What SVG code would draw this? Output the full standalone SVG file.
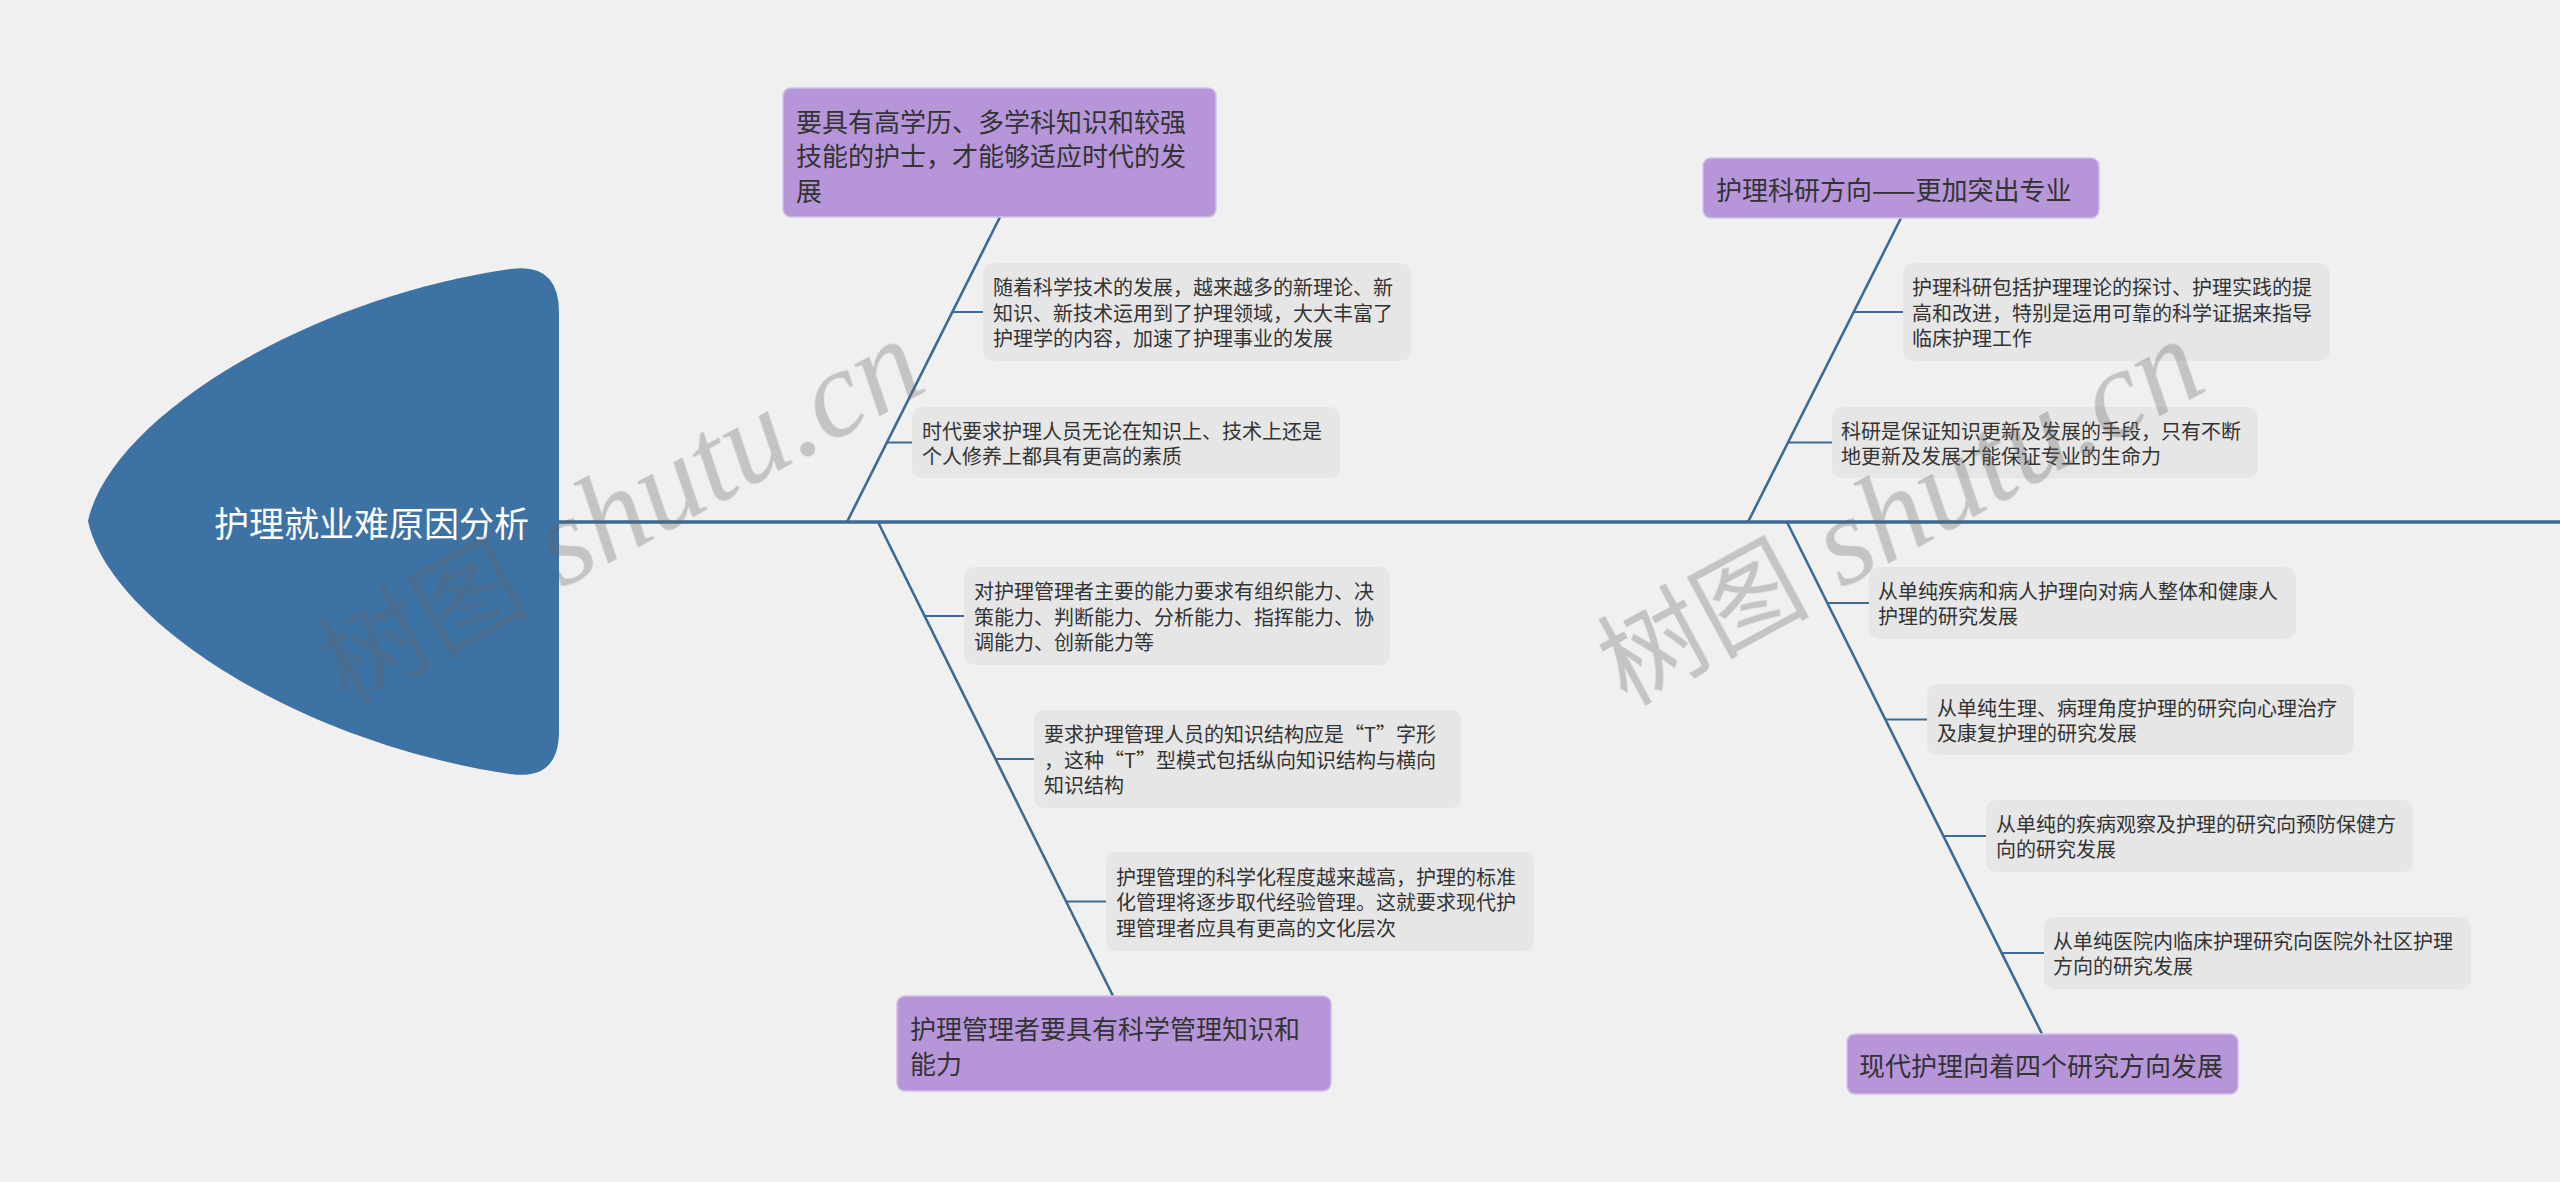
<svg xmlns="http://www.w3.org/2000/svg" width="2560" height="1182" viewBox="0 0 2560 1182">
<style>
.bg{fill:#f0f0f0}
.spine{stroke:#3d6a94;stroke-width:3.5;fill:none}
.bone{stroke:#3d6a94;stroke-width:2.6;fill:none}
.stub{stroke:#3d6a94;stroke-width:2;fill:none}
.main{fill:#b696d9;stroke:#d2bfe8;stroke-width:1.5}
.sub{fill:#e6e6e6}
.t{font-family:"Noto Sans CJK SC","Microsoft YaHei",sans-serif;fill:#333333;dominant-baseline:central}
.t26{font-size:26px}
.t20{font-size:20px}
.head{font-family:"Noto Sans CJK SC",sans-serif;font-size:35px;fill:#ffffff;dominant-baseline:central;text-anchor:end}
.wm{fill:#646464;opacity:0.32}
.wmc{font-family:"Noto Sans CJK SC",sans-serif;font-size:106px}
.wml{font-family:"Liberation Serif",serif;font-style:italic;font-size:125px}
</style>
<rect class="bg" x="0" y="0" width="2560" height="1182"/>

<g id="connectors">
<line class="spine" x1="555" y1="522" x2="2560" y2="522"/>
<line class="bone" x1="847" y1="522" x2="1000" y2="217"/>
<line class="bone" x1="878" y1="522" x2="1113" y2="996"/>
<line class="bone" x1="1748" y1="522" x2="1901" y2="218"/>
<line class="bone" x1="1787" y1="522" x2="2042" y2="1034"/>
<line class="stub" x1="952" y1="312" x2="983" y2="312"/>
<line class="stub" x1="887" y1="442.5" x2="912" y2="442.5"/>
<line class="stub" x1="925" y1="616" x2="964" y2="616"/>
<line class="stub" x1="995.5" y1="759" x2="1034" y2="759"/>
<line class="stub" x1="1066" y1="901.5" x2="1106" y2="901.5"/>
<line class="stub" x1="1853.6" y1="312" x2="1903" y2="312"/>
<line class="stub" x1="1788" y1="442.5" x2="1832" y2="442.5"/>
<line class="stub" x1="1827.3" y1="603" x2="1869" y2="603"/>
<line class="stub" x1="1885.4" y1="719.5" x2="1927" y2="719.5"/>
<line class="stub" x1="1943.4" y1="836" x2="1986" y2="836"/>
<line class="stub" x1="2001.6" y1="953" x2="2044" y2="953"/>
</g>

<g id="root">
<path d="M88,521 C110,420 300,300 510,269 Q559,262 559,312 L559,731 Q559,781 510,774 C300,743 110,622 88,521 Z" fill="#3d72a5"/>
<text class="head" x="529" y="521">护理就业难原因分析</text>
</g>

<g id="main1">
<rect class="main" x="783" y="88" width="433" height="129" rx="8"/>
<text class="t t26" x="796" y="120">要具有高学历、多学科知识和较强</text>
<text class="t t26" x="796" y="154.5">技能的护士，才能够适应时代的发</text>
<text class="t t26" x="796" y="189">展</text>
</g>
<g id="sub1a">
<rect class="sub" x="983" y="263" width="428" height="98" rx="10"/>
<text class="t t20" x="993" y="286.5">随着科学技术的发展，越来越多的新理论、新</text>
<text class="t t20" x="993" y="312">知识、新技术运用到了护理领域，大大丰富了</text>
<text class="t t20" x="993" y="337.5">护理学的内容，加速了护理事业的发展</text>
</g>
<g id="sub1b">
<rect class="sub" x="912" y="407" width="428" height="71" rx="10"/>
<text class="t t20" x="922" y="430">时代要求护理人员无论在知识上、技术上还是</text>
<text class="t t20" x="922" y="455">个人修养上都具有更高的素质</text>
</g>

<g id="main2">
<rect class="main" x="897" y="996" width="434" height="95" rx="8"/>
<text class="t t26" x="910" y="1027">护理管理者要具有科学管理知识和</text>
<text class="t t26" x="910" y="1062">能力</text>
</g>
<g id="sub2a">
<rect class="sub" x="964" y="567" width="426" height="98" rx="10"/>
<text class="t t20" x="974" y="590.5">对护理管理者主要的能力要求有组织能力、决</text>
<text class="t t20" x="974" y="616">策能力、判断能力、分析能力、指挥能力、协</text>
<text class="t t20" x="974" y="641.5">调能力、创新能力等</text>
</g>
<g id="sub2b">
<rect class="sub" x="1034" y="710" width="427" height="98" rx="10"/>
<text class="t t20" x="1044" y="733.5">要求护理管理人员的知识结构应是“T”字形</text>
<text class="t t20" x="1044" y="759">，这种“T”型模式包括纵向知识结构与横向</text>
<text class="t t20" x="1044" y="784.5">知识结构</text>
</g>
<g id="sub2c">
<rect class="sub" x="1106" y="852" width="428" height="99" rx="10"/>
<text class="t t20" x="1116" y="876">护理管理的科学化程度越来越高，护理的标准</text>
<text class="t t20" x="1116" y="901.5">化管理将逐步取代经验管理。这就要求现代护</text>
<text class="t t20" x="1116" y="927">理管理者应具有更高的文化层次</text>
</g>

<g id="main3">
<rect class="main" x="1703" y="158" width="396" height="60" rx="8"/>
<text class="t t26" x="1716" y="188">护理科研方向——更加突出专业</text>
</g>
<g id="sub3a">
<rect class="sub" x="1903" y="263" width="427" height="98" rx="10"/>
<text class="t t20" x="1912" y="286.5">护理科研包括护理理论的探讨、护理实践的提</text>
<text class="t t20" x="1912" y="312">高和改进，特别是运用可靠的科学证据来指导</text>
<text class="t t20" x="1912" y="337.5">临床护理工作</text>
</g>
<g id="sub3b">
<rect class="sub" x="1832" y="407" width="426" height="71" rx="10"/>
<text class="t t20" x="1841" y="430">科研是保证知识更新及发展的手段，只有不断</text>
<text class="t t20" x="1841" y="455">地更新及发展才能保证专业的生命力</text>
</g>

<g id="main4">
<rect class="main" x="1847" y="1034" width="391" height="60" rx="8"/>
<text class="t t26" x="1859" y="1064">现代护理向着四个研究方向发展</text>
</g>
<g id="sub4a">
<rect class="sub" x="1869" y="567" width="427" height="72" rx="10"/>
<text class="t t20" x="1878" y="590.5">从单纯疾病和病人护理向对病人整体和健康人</text>
<text class="t t20" x="1878" y="615.5">护理的研究发展</text>
</g>
<g id="sub4b">
<rect class="sub" x="1927" y="684" width="427" height="71" rx="10"/>
<text class="t t20" x="1937" y="707">从单纯生理、病理角度护理的研究向心理治疗</text>
<text class="t t20" x="1937" y="732">及康复护理的研究发展</text>
</g>
<g id="sub4c">
<rect class="sub" x="1986" y="800" width="427" height="72" rx="10"/>
<text class="t t20" x="1996" y="823.5">从单纯的疾病观察及护理的研究向预防保健方</text>
<text class="t t20" x="1996" y="848.5">向的研究发展</text>
</g>
<g id="sub4d">
<rect class="sub" x="2044" y="917" width="427" height="72" rx="10"/>
<text class="t t20" x="2053" y="940.5">从单纯医院内临床护理研究向医院外社区护理</text>
<text class="t t20" x="2053" y="965.5">方向的研究发展</text>
</g>

<g id="watermark" class="wm">
<text transform="translate(346,706) rotate(-28.5)"><tspan class="wmc" x="0" y="0">树图</tspan><tspan class="wml" x="245" y="0">shutu.cn</tspan></text>
<text transform="translate(1626,706) rotate(-28.5)"><tspan class="wmc" x="0" y="0">树图</tspan><tspan class="wml" x="245" y="0">shutu.cn</tspan></text>
</g>
</svg>
